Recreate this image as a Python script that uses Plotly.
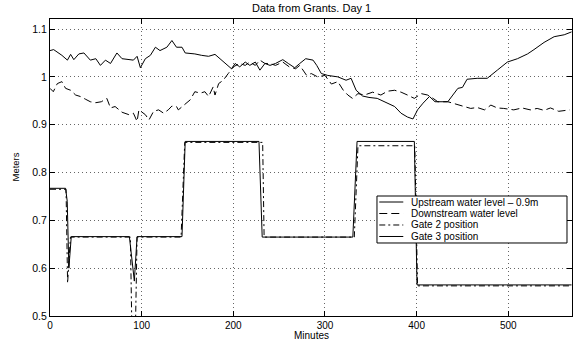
import plotly.graph_objects as go

# Upstream water level - 0.9 m
up_t = [0, 4, 13, 19, 22.5, 26, 31.5, 37, 44, 50, 55, 60.5, 66, 73, 78.6, 86, 91, 95, 98.6, 104,
        109.5, 115, 120, 127.5, 133, 138, 144, 147.5, 158, 165.5, 173, 180, 185.5, 191, 198, 202,
        207, 213, 218, 224, 229, 234.5, 240, 246, 254, 260, 267, 272.5, 279, 287, 291, 296, 303,
        314, 323, 328.5, 334, 341, 348, 357, 368, 376, 383, 390, 396, 401, 407, 414, 420, 434,
        439.5, 445, 450, 455, 466, 477, 488, 499, 510, 521, 528, 539, 550, 561, 569]
up_v = [1.055, 1.057, 1.045, 1.035, 1.047, 1.036, 1.048, 1.05, 1.035, 1.038, 1.024, 1.035, 1.028,
        1.05, 1.038, 1.036, 1.035, 1.043, 1.019, 1.038, 1.045, 1.062, 1.055, 1.062, 1.076, 1.062,
        1.062, 1.05, 1.048, 1.045, 1.043, 1.047, 1.038, 1.028, 1.017, 1.028, 1.021, 1.031, 1.024,
        1.031, 1.014, 1.028, 1.024, 1.028, 1.036, 1.028, 1.019, 1.028, 1.038, 1.035, 1.024, 1.007,
        1.003, 1.0, 0.993, 0.997, 0.972, 0.96, 0.957, 0.955, 0.946, 0.938, 0.924, 0.916, 0.912,
        0.931, 0.945, 0.959, 0.948, 0.948, 0.962, 0.976, 0.978, 0.995, 0.997, 0.997, 1.014, 1.031,
        1.038, 1.048, 1.057, 1.072, 1.084, 1.088, 1.094]

# Downstream water level
down_t = [0, 3.6, 8, 13, 17, 22.5, 28, 33, 39, 44, 50, 56, 62, 66, 71, 78.6, 86, 91, 95, 97, 104,
          108, 113, 118.5, 124, 129, 133, 138, 140, 146, 153, 158, 164, 169, 173, 178, 180, 184,
          189, 194.5, 200, 207, 213, 218, 224, 229, 234.5, 240, 246, 254, 261, 268, 272.5, 280,
          285, 292, 300, 307, 314, 320, 325, 330, 336, 343, 352, 361, 368, 376, 383, 390, 397.5,
          405, 412, 418, 423, 434, 440, 445, 452, 459, 466, 474, 481, 488, 495, 506, 515, 524,
          531.5, 539, 546, 555, 567]
down_v = [0.976, 0.969, 0.986, 0.99, 0.976, 0.972, 0.962, 0.959, 0.953, 0.948, 0.946, 0.948, 0.955,
          0.935, 0.938, 0.926, 0.921, 0.924, 0.907, 0.931, 0.921, 0.91, 0.928, 0.931, 0.924, 0.931,
          0.939, 0.938, 0.931, 0.941, 0.952, 0.969, 0.966, 0.969, 0.959, 0.979, 0.962, 0.986, 0.993,
          1.007, 1.021, 1.028, 1.024, 1.031, 1.024, 1.035, 1.028, 1.028, 1.024, 1.031, 1.021, 1.017,
          1.024, 1.003, 1.007, 1.0, 1.003, 0.985, 0.99, 0.972, 0.962, 0.955, 0.965, 0.962, 0.968,
          0.962, 0.97, 0.972, 0.968, 0.962, 0.955, 0.965, 0.962, 0.955, 0.948, 0.948, 0.945, 0.941,
          0.938, 0.934, 0.936, 0.931, 0.941, 0.935, 0.934, 0.931, 0.935, 0.931, 0.934, 0.93, 0.935,
          0.928, 0.931]

# Gate 2 position
g2_t = [0, 17.5, 19.2, 22.3, 87.7, 89.5, 93, 95, 143, 147, 232, 233.6, 332, 336, 398, 401, 569]
g2_v = [0.765, 0.765, 0.569, 0.665, 0.665, 0.45, 0.45, 0.665, 0.665, 0.863, 0.863, 0.665, 0.665,
        0.856, 0.856, 0.563, 0.563]

# Gate 3 position
g3_t = [0, 17, 18.8, 20.6, 23.2, 86.6, 92, 95, 144, 147.5, 228, 231.5, 330.4, 335, 397.5, 400.4, 569]
g3_v = [0.767, 0.767, 0.74, 0.6, 0.666, 0.666, 0.573, 0.666, 0.666, 0.865, 0.865, 0.665, 0.665,
        0.865, 0.865, 0.565, 0.565]

series_names = ["Upstream water level – 0.9m", "Downstream water level",
                "Gate 2 position", "Gate 3 position"]
series_dash = ["solid", "8px,4px", "6px,3px,2px,3px", "solid"]

x_ticks = [0, 100, 200, 300, 400, 500]
y_ticks = [0.5, 0.6, 0.7, 0.8, 0.9, 1.0, 1.1]
y_tick_labels = ["0.5", "0.6", "0.7", "0.8", "0.9", "1", "1.1"]

FONT = "Liberation Sans, Arial, Helvetica, sans-serif"

fig = go.Figure()
for (xs, ys), name, dash in zip([(up_t, up_v), (down_t, down_v), (g2_t, g2_v), (g3_t, g3_v)],
                                series_names, series_dash):
    fig.add_trace(go.Scatter(x=xs, y=ys, mode="lines", name=name, showlegend=False,
                             line=dict(color="black", width=1, dash=dash)))

axis_common = dict(showline=True, linecolor="black", linewidth=1, mirror="allticks",
                   ticks="inside", ticklen=5, tickcolor="black",
                   showgrid=True, gridcolor="#666", griddash="1px,3px", gridwidth=1,
                   zeroline=False)

fig.update_xaxes(range=[0, 569.5], tickvals=x_ticks,
                 tickfont=dict(family=FONT, size=10, color="black"), **axis_common)
fig.update_yaxes(range=[0.5, 1.121], tickvals=y_ticks, ticktext=y_tick_labels,
                 tickfont=dict(family=FONT, size=10.5, color="black"), **axis_common)

# Legend box (drawn in paper coordinates to match the compact MATLAB legend)
LX0, LX1, LY0, LY1 = 0.6264, 0.9904, 0.2458, 0.404
row_y = [0.3838, 0.3451, 0.3064, 0.2677]
shapes = [dict(type="rect", xref="paper", yref="paper", x0=LX0, x1=LX1, y0=LY0, y1=LY1,
               line=dict(color="black", width=1), fillcolor="white", layer="above")]
annotations = []
for name, dash, yy in zip(series_names, series_dash, row_y):
    shapes.append(dict(type="line", xref="paper", yref="paper", x0=0.6308, x1=0.6768,
                       y0=yy, y1=yy, line=dict(color="black", width=1, dash=dash),
                       layer="above"))
    annotations.append(dict(text=name, x=0.6897, y=yy, xref="paper", yref="paper",
                            xanchor="left", yanchor="middle", showarrow=False,
                            borderpad=0,
                            font=dict(family=FONT, size=10, color="black")))

annotations += [
    dict(text="Data from Grants. Day 1", x=0.5, y=1.037, xref="paper", yref="paper",
         yanchor="middle", showarrow=False,
         font=dict(family=FONT, size=11, color="black")),
    dict(text="Minutes", x=0.5, y=-0.0673, xref="paper", yref="paper",
         yanchor="middle", showarrow=False,
         font=dict(family=FONT, size=10, color="black")),
    dict(text="Meters", x=-0.067, y=0.5, xref="paper", yref="paper",
         xanchor="center", yanchor="middle", textangle=-90, showarrow=False,
         font=dict(family=FONT, size=9.5, color="black")),
]

fig.update_layout(
    width=574, height=340,
    margin=dict(l=50, r=2, t=19, b=24),
    paper_bgcolor="white", plot_bgcolor="white",
    showlegend=False,
    shapes=shapes,
    annotations=annotations,
)

fig.write_html("out.html", config={"displayModeBar": False},
               post_script="document.body.style.margin='0';document.body.style.overflow='hidden';")
